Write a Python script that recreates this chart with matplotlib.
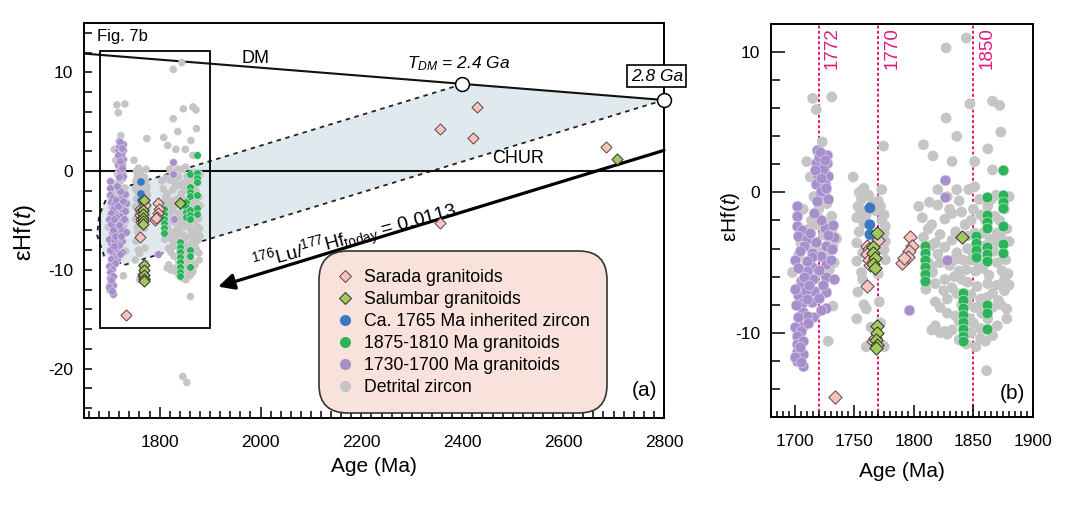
import numpy as np
import matplotlib
matplotlib.use("Agg")
import matplotlib.pyplot as plt
from matplotlib.lines import Line2D

plt.rcParams['font.family'] = ['Liberation Sans', 'DejaVu Sans']
plt.rcParams['mathtext.fontset'] = 'custom'
plt.rcParams['mathtext.rm'] = 'Liberation Sans'
plt.rcParams['mathtext.it'] = 'Liberation Sans:italic'
plt.rcParams['axes.unicode_minus'] = False

# ---- data (age in Ma, epsilon Hf) ----
detrital_age = [1715, 1718, 1731, 1723, 1710, 1725, 1713, 1716, 1720, 1707, 1721, 1731, 1716, 1712,
                1731, 1724, 1710, 1729, 1718, 1703, 1698, 1710, 1711, 1722, 1727, 1732, 1726, 1732,
                1728, 1706, 1735, 1719, 1714, 1725, 1721, 1727, 1722, 1712, 1729, 1719, 1705, 1733,
                1749, 1754, 1758, 1756, 1762, 1773, 1753, 1757, 1772, 1775, 1752, 1755, 1773, 1776,
                1754, 1752, 1775, 1776, 1757, 1775, 1776, 1752, 1756, 1753, 1760, 1752, 1771, 1760,
                1774, 1758, 1775, 1774.5, 1770, 1765, 1760, 1770, 1758, 1768, 1772, 1757, 1764, 1772,
                1808, 1816, 1827, 1844, 1827, 1836, 1832, 1847, 1851, 1866, 1872, 1873, 1862, 1866,
                1836, 1846, 1851, 1820, 1813,
                1820, 1826, 1807, 1815, 1830, 1838, 1855, 1865, 1856, 1848, 1860, 1868, 1878, 1835,
                1843, 1870, 1851, 1822, 1812,
                1808, 1818, 1826, 1832, 1836, 1845, 1848, 1855, 1858, 1864, 1867, 1870, 1877, 1880,
                1815, 1822, 1830, 1838, 1844, 1852, 1858, 1863, 1874, 1879, 1820, 1841, 1862,
                1810, 1818, 1826, 1832, 1836, 1845, 1848, 1853, 1856, 1862, 1866, 1870, 1876, 1880,
                1828, 1840, 1851, 1857, 1866, 1873, 1878, 1835, 1847, 1822,
                1818, 1826, 1832, 1838, 1848, 1856, 1860, 1852, 1866, 1844, 1861, 1815.6,
                1828, 1832, 1840, 1845, 1850, 1858, 1862, 1872, 1876, 1880, 1869, 1834, 1840, 1850,
                1854, 1860, 1868, 1873, 1876, 1871, 1861, 1855, 1845, 1838, 1828, 1815, 1822, 1828,
                1850, 1862, 1870, 1834, 1825, 1818, 1812, 1804, 1814, 1878, 1856, 1842,
                1846, 1854]
detrital_ehf = [6.7, 5.9, 6.8, 3.6, 2.2, 1.6, 1.1, -0.3, -1.2, -1.2, -1.9, -1.7, -1.8, -2.6,
                -2.7, -3.0, -3.4, -3.6, -4.2, -4.5, -5.7, -5.0, -5.7, -4.3, -4.6, -3.8, -7.1, -8.1,
                -10.6, -1.2, -3.3, -2.3, -2.0, -2.2, 2.6, -0.8, 0.4, -3.9, -5.5, -5.8, -3.6, -5.0,
                1.1, 0.0, 0.3, -0.5, -0.2, 0.2, -1.0, -1.3, -1.0, -1.6, -1.8, -1.5, -2.0, -2.4,
                -2.8, -3.6, -2.9, -3.5, -4.3, -4.1, -4.8, -4.9, -5.7, -7.1, -8.3, -9.0, -7.8, -11.0,
                -10.9, -8.0, -11.0, 3.3, -0.6, -0.8, -1.6, -5.8, -2.2, -1.3, -3.2, -6.2, -9.6, -9.3,
                3.4, 2.6, 10.3, 11.0, 5.3, 4.0, 2.2, 6.3, 2.2, 6.5, 6.2, 4.3, 3.1, 1.6,
                0.2, 0.2, 0.4, 0.2, -0.7,
                -0.9, -1.9, -1.8, -2.3, -1.2, -0.6, -0.5, -0.5, -1.6, -2.0, -2.0, -1.7, -2.6, -2.8,
                -2.3, -2.9, -2.9, -3.0, -2.6,
                -3.2, -3.6, -3.9, -3.4, -4.3, -4.0, -4.8, -3.8, -4.6, -3.3, -4.2, -5.0, -4.8, -3.5,
                -5.3, -5.0, -5.2, -5.6, -5.5, -5.6, -5.4, -5.9, -5.6, -5.8, -4.4, -4.8, -4.9,
                -6.9, -6.5, -6.2, -6.8, -7.2, -6.4, -7.3, -6.7, -7.6, -6.5, -7.2, -6.6, -7.0, -6.6,
                -7.6, -8.0, -8.2, -8.6, -8.2, -8.0, -8.3, -8.8, -9.0, -8.2,
                -9.5, -9.9, -9.8, -10.5, -10.0, -9.7, -10.6, -11.0, -10.2, -10.8, -12.7, -5.7,
                -0.3, -1.5, -1.4, -3.1, -1.2, -2.9, -1.0, -2.0, -1.2, -0.3, -0.2, -4.8, -6.2, -4.4,
                -5.0, -3.8, -3.6, -3.2, -6.2, -7.7, -7.5, -8.2, -8.0, -9.2, -8.6, -9.8, -10.0, -10.1,
                -9.3, -9.0, -9.5, -6.0, -7.0, -7.8, -5.0, -1.0, -3.8, -9.0, -10.4, -9.5,
                -20.8, -21.4]

purple_age = [1719, 1727, 1718, 1727, 1719, 1728, 1718, 1725, 1721, 1725, 1728, 1720, 1724, 1722,
              1721, 1725, 1717, 1722, 1726, 1719,
              1702, 1702, 1702, 1706, 1703, 1710, 1713, 1725, 1732, 1733, 1726, 1714, 1731, 1722,
              1708, 1704, 1714, 1714, 1705, 1705, 1703, 1706, 1707, 1707, 1715, 1716, 1714, 1715,
              1726, 1726, 1726, 1726, 1733, 1710, 1720, 1720, 1710, 1730,
              1700, 1703, 1708, 1700, 1709, 1701, 1710, 1703, 1711, 1700, 1705, 1712, 1718, 1722,
              1728, 1716, 1710, 1724, 1722,
              1702, 1702, 1702, 1702, 1707, 1707, 1707, 1704, 1700, 1705,
              1796, 1826, 1826, 1828]
purple_ehf = [3.0, 2.7, 2.1, 2.1, 1.3, 1.2, 0.6, 0.6, -0.1, -0.2, -0.5, 2.5, 1.7, 0.1,
              2.9, 2.3, 1.6, 1.0, 0.3, -0.6,
              -1.0, -1.7, -2.4, -2.7, -3.1, -3.3, -2.9, -2.5, -2.3, -3.2, -3.8, -4.3, -4.0, -4.5,
              -3.8, -4.2, -4.6, -5.3, -6.3, -6.7, -7.3, -7.9, -8.5, -9.5, -6.2, -7.0, -7.8, -8.9,
              -5.1, -6.0, -7.1, -8.2, -6.2, -5.6, -5.5, -7.5, -8.8, -4.8,
              -4.8, -5.4, -6.0, -6.9, -7.0, -8.0, -7.6, -8.9, -9.3, -9.6, -9.9, -6.6, -3.5, -2.0,
              -3.0, -1.5, -4.9, -6.6, -8.4,
              -10.2, -10.8, -11.4, -12.0, -12.4, -10.6, -11.5, -11.0, -11.7, -12.1,
              -8.4, 0.9, -0.3, -4.8]

green_age = [1809, 1809, 1809, 1809, 1809, 1809,
             1841, 1841, 1841, 1841, 1841, 1841, 1841, 1841,
             1852, 1852, 1852, 1852,
             1861, 1861, 1861, 1861, 1861, 1861, 1861, 1861, 1861, 1861,
             1875, 1875, 1875, 1875, 1875, 1875, 1875]
green_ehf = [-3.8, -4.3, -4.8, -5.3, -5.8, -6.3,
             -7.2, -7.7, -8.2, -8.7, -9.2, -9.7, -10.2, -10.6,
             -3.1, -3.6, -4.1, -4.6,
             -0.3, -1.6, -2.1, -2.5, -3.9, -4.4, -4.9, -8.0, -8.6, -9.7,
             1.6, -0.2, -0.7, -1.1, -2.4, -3.7, -4.3]

blue_age = [1763, 1763, 1763]
blue_ehf = [-1.1, -2.3, -3.0]

sarada_age = [1761, 1762, 1761, 1762, 1763, 1761, 1766, 1767, 1770,
              1797, 1798, 1796, 1795, 1790, 1792,
              1734, 2356, 2430, 2422, 2686, 2356]
sarada_ehf = [-3.8, -4.0, -4.4, -4.8, -5.2, -6.7, -10.6, -10.4, -3.4,
              -3.2, -3.8, -4.2, -4.6, -5.0, -4.7,
              -14.6, 4.3, 6.5, 3.4, 2.4, -5.3]

salumbar_age = [1769, 1766, 1766, 1767, 1766, 1767, 1769, 1769, 1768, 1769, 1768, 1840, 2706]
salumbar_ehf = [-2.9, -3.9, -4.3, -4.7, -5.1, -5.4, -9.5, -10.0, -10.5, -10.9, -11.1, -3.2, 1.2]

# model lines (end points)
dm_age = [1650, 2800]
dm_ehf = [11.9, 7.2]
tdm_age = [2400, 2800]
tdm_ehf = [8.8, 7.2]
upper_dot_age = [2400, 1700]
upper_dot_ehf = [8.8, -2.1]
lower_dot_age = [2800, 1730]
lower_dot_ehf = [7.2, -9.5]
left_end_age = [1700, 1680, 1676, 1690, 1730]
left_end_ehf = [-2.1, -4.5, -6.5, -8.6, -9.5]
luhf_start = (2800, 2.1)
luhf_end = (1916, -11.7)

ref_lines = [1720, 1770, 1850]
ref_labels = ['1772', '1770', '1850']

c_gray = '#c5c5c5'
c_purple = '#a68fca'
c_green = '#2db35a'
c_blue = '#3b78c2'
c_pink = '#f6c3c1'
c_lime = '#a3c95a'
c_shade = '#dfe9ee'
c_mag = '#e3177c'

fig = plt.figure(figsize=(10.8, 5.05), dpi=100)
ax = fig.add_axes([0.0778, 0.1723, 0.537, 0.7822])
bx = fig.add_axes([0.7139, 0.1743, 0.2426, 0.7782])


def draw_points(a, s_circ, s_dia):
    a.scatter(detrital_age, detrital_ehf, s=s_circ, c=c_gray, edgecolors='none', zorder=3)
    a.scatter(purple_age, purple_ehf, s=s_circ, c=c_purple, edgecolors='#e6dcf0', linewidths=0.4, zorder=3)
    a.scatter(green_age, green_ehf, s=s_circ, c=c_green, edgecolors='#d8f0df', linewidths=0.4, zorder=4)
    a.scatter(blue_age, blue_ehf, s=s_circ, c=c_blue, edgecolors='none', zorder=4)
    a.scatter(sarada_age, sarada_ehf, s=s_dia, marker='D', c=c_pink, edgecolors='#5a4545', linewidths=0.7, zorder=5)
    a.scatter(salumbar_age, salumbar_ehf, s=s_dia, marker='D', c=c_lime, edgecolors='#2e2e2e', linewidths=0.7, zorder=5)


# ---------------- panel (a) ----------------
poly_x = tdm_age + lower_dot_age[1:] + left_end_age[::-1][1:] + upper_dot_age[::-1]
poly_y = tdm_ehf + lower_dot_ehf[1:] + left_end_ehf[::-1][1:] + upper_dot_ehf[::-1]
ax.fill(poly_x, poly_y, color=c_shade, lw=0, zorder=1)
ax.plot(upper_dot_age, upper_dot_ehf, ls=(0, (2.5, 2.5)), color='#222', lw=1.3, zorder=2)
ax.plot(lower_dot_age, lower_dot_ehf, ls=(0, (2.5, 2.5)), color='#222', lw=1.3, zorder=2)
ax.plot(left_end_age, left_end_ehf, ls=(0, (2.5, 2.5)), color='#222', lw=1.3, zorder=2)
ax.plot(dm_age, dm_ehf, color='#111', lw=1.5, zorder=2)
ax.axhline(0, color='#111', lw=1.5, zorder=2)
ax.annotate('', xy=luhf_end, xytext=luhf_start,
            arrowprops=dict(arrowstyle='-|>', lw=2.3, color='black', mutation_scale=24,
                            shrinkA=0, shrinkB=0), zorder=2)

draw_points(ax, 30, 32)

ax.scatter(tdm_age, tdm_ehf, s=100, c='white', edgecolors='black', linewidths=1.1, zorder=6, clip_on=False)
ax.text(2392, 10.9, r'$T_{DM}$ = 2.4 Ga', style='italic', fontsize=12.5, ha='center', va='center')
ax.text(2786, 9.6, '2.8 Ga', style='italic', fontsize=12.5, ha='center', va='center', clip_on=False,
        bbox=dict(boxstyle='square,pad=0.2', fc='white', ec='black', lw=1.2), zorder=7)
ax.text(1990, 11.4, 'DM', fontsize=13, ha='center', va='center')
ax.text(2511, 1.3, 'CHUR', fontsize=13, ha='center', va='center')
ax.text(2188, -6.8, r'$^{176}$Lu/$^{177}$Hf$_{\mathrm{today}}$ = 0.0113', fontsize=14,
        rotation=15, rotation_mode='anchor', ha='center', va='center')

ax.add_patch(plt.Rectangle((1682, -15.9), 218, 28.1, fill=False, ec='black', lw=1.3, zorder=6))
ax.text(1727, 13.6, 'Fig. 7b', fontsize=12, ha='center', va='center')
ax.text(2762, -22.2, '(a)', fontsize=15, ha='center', va='center')

ax.set_xlim(1650, 2800)
ax.set_ylim(-25, 15)
ax.set_xticks([1800, 2000, 2200, 2400, 2600, 2800])
ax.set_xticks(np.arange(1660, 2800, 20), minor=True)
ax.set_yticks([-20, -10, 0, 10])
ax.set_yticks(np.arange(-24, 15, 2), minor=True)
ax.tick_params(axis='both', which='both', direction='in', labelsize=12.5, width=1.1)
ax.tick_params(axis='x', which='major', length=8, pad=12)
ax.tick_params(axis='x', which='minor', length=5)
ax.tick_params(axis='y', which='both', length=6, pad=8)
for sp in ax.spines.values():
    sp.set_linewidth(1.4)
ax.set_xlabel('Age (Ma)', fontsize=15)
ax.xaxis.set_label_coords(0.5, -0.1)
ax.set_ylabel(r'εHf($\mathit{t}$)', fontsize=17)
ax.yaxis.set_label_coords(-0.08, 0.47)

handles = [
    Line2D([], [], marker='D', ls='', ms=6.5, mfc=c_pink, mec='#5a4545', mew=0.7, label='Sarada granitoids'),
    Line2D([], [], marker='D', ls='', ms=6.5, mfc=c_lime, mec='#2e2e2e', mew=0.7, label='Salumbar granitoids'),
    Line2D([], [], marker='o', ls='', ms=8, mfc=c_blue, mec='none', label='Ca. 1765 Ma inherited zircon'),
    Line2D([], [], marker='o', ls='', ms=8, mfc=c_green, mec='none', label='1875-1810 Ma granitoids'),
    Line2D([], [], marker='o', ls='', ms=8, mfc=c_purple, mec='none', label='1730-1700 Ma granitoids'),
    Line2D([], [], marker='o', ls='', ms=8, mfc=c_gray, mec='none', label='Detrital zircon'),
]
leg = ax.legend(handles=handles, loc='lower left', bbox_to_anchor=(0.415, 0.025), fontsize=12.7,
                frameon=True, fancybox=True, handlelength=0.9, handletextpad=0.6,
                labelspacing=0.28, borderpad=0.7, borderaxespad=0)
fr = leg.get_frame()
fr.set_facecolor('#f8e2db')
fr.set_edgecolor('#333333')
fr.set_linewidth(1.2)
fr.set_alpha(1)
fr.set_boxstyle('round,pad=0.3,rounding_size=1.6')
leg.set_zorder(8)

# ---------------- panel (b) ----------------
for xv, lab in zip(ref_lines, ref_labels):
    bx.axvline(xv, color=c_mag, ls=(0, (1.5, 1.2)), lw=1.4, zorder=1)
    bx.text(xv + 4.5, 11.8, lab, color=c_mag, fontsize=13.5, rotation=90, ha='left', va='top')

draw_points(bx, 60, 46)

bx.text(1883, -14.3, '(b)', fontsize=15, ha='center', va='center')
bx.set_xlim(1680, 1900)
bx.set_ylim(-16, 12)
bx.set_xticks([1700, 1750, 1800, 1850, 1900])
bx.set_xticks(np.arange(1680, 1901, 5), minor=True)
bx.set_yticks([-10, 0, 10])
bx.set_yticks(np.arange(-16, 13, 2), minor=True)
bx.tick_params(axis='both', which='both', direction='in', labelsize=12.5, width=1.1)
bx.tick_params(axis='x', which='major', length=9, pad=12)
bx.tick_params(axis='x', which='minor', length=4.5)
bx.tick_params(axis='y', which='major', length=10, pad=8)
bx.tick_params(axis='y', which='minor', length=6.5)
for sp in bx.spines.values():
    sp.set_linewidth(1.4)
bx.set_xlabel('Age (Ma)', fontsize=15)
bx.xaxis.set_label_coords(0.5, -0.115)
bx.set_ylabel(r'εHf($\mathit{t}$)', fontsize=15)
bx.yaxis.set_label_coords(-0.11, 0.51)

fig.savefig('out.png', dpi=100)
